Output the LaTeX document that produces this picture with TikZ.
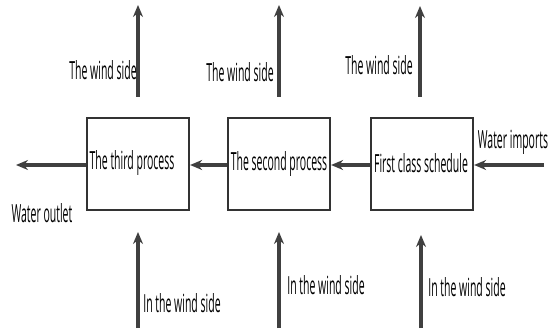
\documentclass[tikz,border=0pt]{standalone}
\usepackage{fontspec}
\setmainfont{Open Sans}[FakeStretch=0.42]
\usetikzlibrary{arrows.meta}
\begin{document}
\begin{tikzpicture}[x=1pt,y=-1pt,
  procbox/.style={draw=black!80,line width=2.2pt,minimum width=102pt,minimum height=92pt,inner sep=0pt},
  lbl/.style={font=\fontsize{25}{25}\selectfont,inner sep=0pt},
  flow/.style={line width=3.2pt,draw=black!75,-{Stealth[length=12pt,width=10pt]}},
]
\useasboundingbox (0,0) rectangle (550,329);

% process boxes
\node[procbox] (p3) at (138,164) {};
\node[procbox] (p2) at (279,164) {};
\node[procbox] (p1) at (422,164) {};
\node[lbl] (t3) at (132,163) {The third process};
\node[lbl] (t2) at (279,164) {The second process};
\node[lbl] (t1) at (421,163) {First class schedule};

% inflow / outflow ends
\coordinate (outend) at (16,165);
\coordinate (inend) at (544,165);
\node[lbl] (wout) at (42,213) {Water outlet};
\node[lbl] (win) at (513,142) {Water imports};

% water path
\draw[flow] (inend) -- (p1.east |- inend);
\draw[flow] (p1.west |- inend) -- (p2.east |- inend);
\draw[flow] (p2.west |- inend) -- (p3.east |- inend);
\draw[flow] (p3.west |- outend) -- (outend);

% air leaving at the top
\coordinate (u3a) at (138,97); \coordinate (u3b) at (138,5);
\coordinate (u2a) at (279,97); \coordinate (u2b) at (279,5);
\coordinate (u1a) at (420,97); \coordinate (u1b) at (420,6);
\draw[flow] (u3a) -- (u3b);
\draw[flow] (u2a) -- (u2b);
\draw[flow] (u1a) -- (u1b);
\node[lbl] (w3) at (103,70) {The wind side};
\node[lbl] (w2) at (240,72) {The wind side};
\node[lbl] (w1) at (379,65) {The wind side};

% air entering at the bottom
\coordinate (d3a) at (138,328); \coordinate (d3b) at (138,232);
\coordinate (d2a) at (279,328); \coordinate (d2b) at (279,232);
\coordinate (d1a) at (421,328); \coordinate (d1b) at (421,235);
\draw[flow] (d3a) -- (d3b);
\draw[flow] (d2a) -- (d2b);
\draw[flow] (d1a) -- (d1b);
\node[lbl] (i3) at (182,303) {In the wind side};
\node[lbl] (i2) at (326,285) {In the wind side};
\node[lbl] (i1) at (467,287) {In the wind side};
\end{tikzpicture}
\end{document}
